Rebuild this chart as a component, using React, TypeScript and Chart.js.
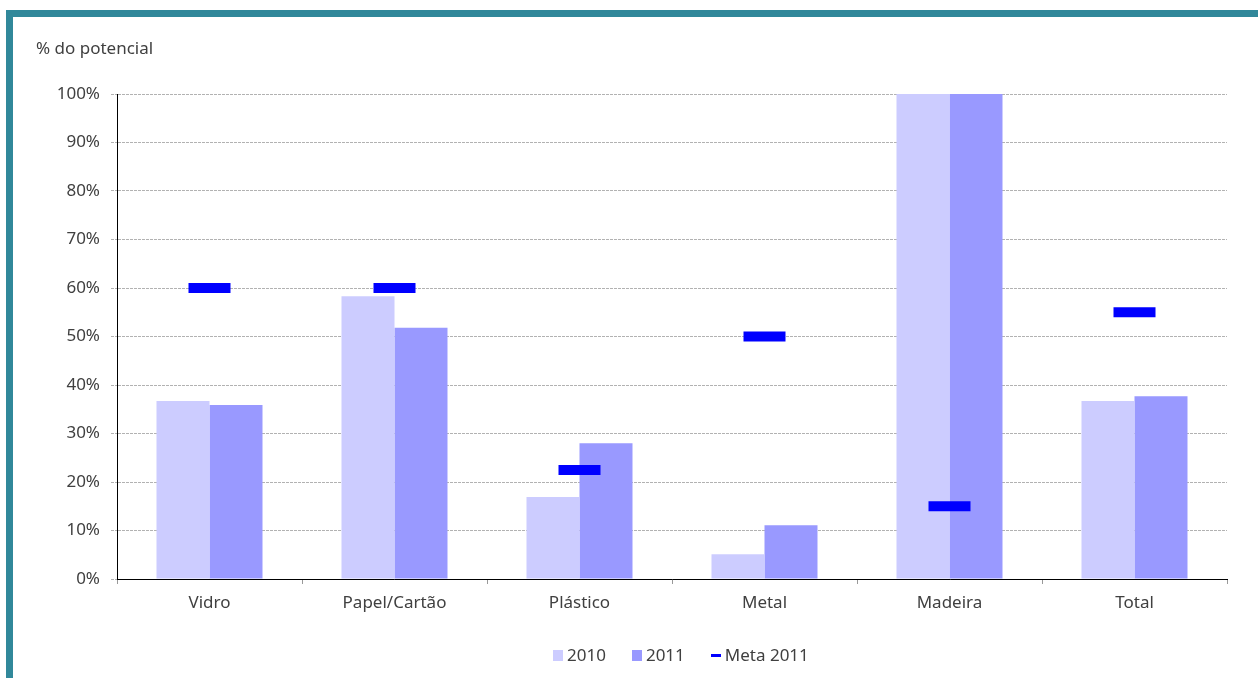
import React, { useEffect, useRef } from "react";
import { Chart, registerables } from "chart.js";

Chart.register(...registerables);

const categories = ["Vidro", "Papel/Cartão", "Plástico", "Metal", "Madeira", "Total"];
const values2010 = [36.7, 58.3, 16.9, 5.1, 100, 36.7];
const values2011 = [35.9, 51.8, 28.0, 11.1, 100, 37.7];
const meta2011 = [60, 60, 22.5, 50, 15, 55];
const seriesLabels = ["2010", "2011", "Meta 2011"];
const seriesColors = ["#CCCCFF", "#9999FF", "#0000FF"];
const yAxisTitle = "% do potencial";

const FONT = "'Noto Sans', sans-serif";
const TEXT = "#404040";
const GRID = "#b2b2b2";
const TEAL = "#31889A";

export default function App() {
  const ref = useRef<HTMLCanvasElement | null>(null);

  useEffect(() => {
    if (!ref.current) return;
    const chart = new Chart(ref.current, {
      type: "bar",
      data: {
        labels: categories,
        datasets: [
          {
            type: "line",
            label: seriesLabels[2],
            data: meta2011,
            showLine: false,
            pointStyle: "line",
            pointRadius: 21,
            pointHoverRadius: 21,
            pointBorderWidth: 10,
            pointHoverBorderWidth: 10,
            pointBorderColor: seriesColors[2],
            pointBackgroundColor: seriesColors[2],
            borderColor: seriesColors[2],
            backgroundColor: seriesColors[2],
            borderWidth: 3,
            order: 0,
          } as any,
          {
            label: seriesLabels[0],
            data: values2010,
            backgroundColor: seriesColors[0],
            borderWidth: 0,
            categoryPercentage: 0.573,
            barPercentage: 1,
            order: 1,
          },
          {
            label: seriesLabels[1],
            data: values2011,
            backgroundColor: seriesColors[1],
            borderWidth: 0,
            categoryPercentage: 0.573,
            barPercentage: 1,
            order: 1,
          },
        ],
      },
      options: {
        animation: false,
        responsive: false,
        devicePixelRatio: 1,
        layout: { padding: { top: 94, right: 31, bottom: 59, left: 0 } },
        plugins: {
          legend: { display: false },
          tooltip: { enabled: false },
          title: { display: false },
        },
        scales: {
          x: {
            offset: true,
            grid: {
              display: true,
              drawOnChartArea: false,
              drawTicks: true,
              tickLength: 5,
              tickColor: "#999999",
              offset: true,
            },
            border: { display: true, color: "#000000", width: 1 },
            ticks: {
              color: TEXT,
              font: { family: FONT, size: 17 },
              padding: 9,
            },
            afterFit: (s: any) => {
              s.height = 40;
            },
          },
          y: {
            min: 0,
            max: 100,
            ticks: {
              stepSize: 10,
              color: TEXT,
              font: { family: FONT, size: 17 },
              padding: 11,
              callback: (v: any) => v + "%",
            },
            grid: {
              color: GRID,
              lineWidth: 1,
              drawTicks: true,
              tickLength: 6,
              tickColor: GRID,
              tickBorderDash: [3, 1],
            },
            border: { display: true, color: "#000000", width: 1, dash: [3, 1] },
            afterFit: (s: any) => {
              s.width = 117;
            },
          },
        },
      },
    });
    return () => chart.destroy();
  }, []);

  const legendItems = [
    { label: seriesLabels[0], color: seriesColors[0], kind: "box" },
    { label: seriesLabels[1], color: seriesColors[1], kind: "box" },
    { label: seriesLabels[2], color: seriesColors[2], kind: "line" },
  ];

  return (
    <div
      style={{
        position: "absolute",
        left: 0,
        top: 0,
        width: 1258,
        height: 678,
        background: "#ffffff",
        overflow: "hidden",
        fontFamily: FONT,
      }}
    >
      <div style={{ position: "absolute", left: 6, top: 10, width: 1252, height: 7, background: TEAL }} />
      <div style={{ position: "absolute", left: 6, top: 10, width: 7, height: 668, background: TEAL }} />
      <canvas ref={ref} width={1258} height={678} style={{ position: "absolute", left: 0, top: 0, width: 1258, height: 678 }} />
      <div
        style={{
          position: "absolute",
          left: 36,
          top: 38,
          fontSize: 17,
          lineHeight: "20px",
          color: TEXT,
          whiteSpace: "nowrap",
        }}
      >
        {yAxisTitle}
      </div>
      <div
        style={{
          position: "absolute",
          left: 553,
          top: 645,
          height: 20,
          display: "flex",
          alignItems: "center",
          fontSize: 17,
          color: TEXT,
          whiteSpace: "nowrap",
        }}
      >
        {legendItems.map((it, i) => (
          <div key={i} style={{ display: "flex", alignItems: "center", marginRight: i < 2 ? 26 : 0 }}>
            {it.kind === "box" ? (
              <span style={{ display: "inline-block", width: 10, height: 11, background: it.color, marginRight: 4 }} />
            ) : (
              <span style={{ display: "inline-block", width: 10, height: 3, background: it.color, marginRight: 4 }} />
            )}
            <span style={{ lineHeight: "20px" }}>{it.label}</span>
          </div>
        ))}
      </div>
    </div>
  );
}
